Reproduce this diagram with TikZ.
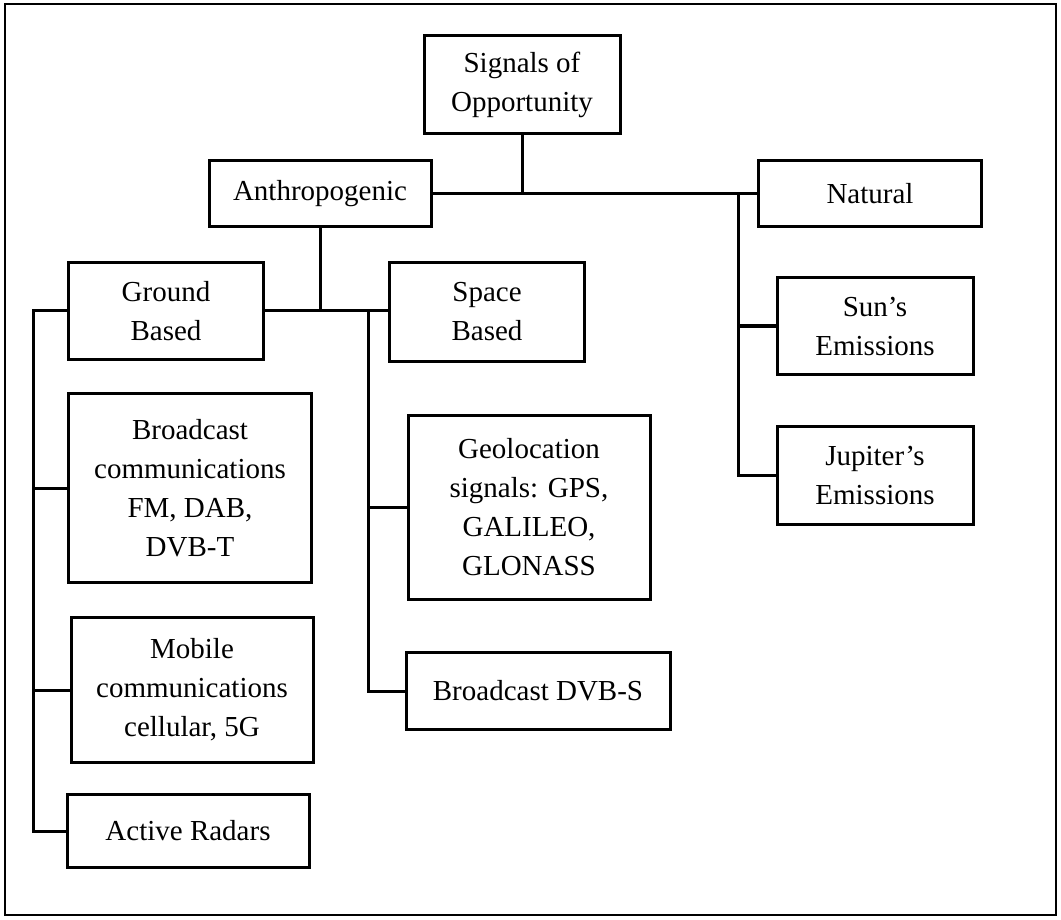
\documentclass[tikz,border=0pt]{standalone}
\usepackage{fontspec}
\setmainfont{Liberation Serif}
\usepackage{tikz}

\begin{document}
\begin{tikzpicture}[x=1pt, y=-1pt, line width=3pt,
    catbox/.style={draw, align=center, inner sep=0pt, font=\fontsize{29}{39}\selectfont}]
        \useasboundingbox (0,0) rectangle (1061,920);
        \draw[line width=2.6pt] (5,4) rectangle (1056,915);
        % top levels
        \node[catbox, minimum width=196pt, minimum height=98pt] (sig) at (522,85) {Signals of\\Opportunity};
        \node[catbox, minimum width=222pt, minimum height=66pt] (anth) at (320,194) {Anthropogenic};
        \node[catbox, minimum width=223pt, minimum height=66pt] (nat) at (870,194) {Natural};
        \node[catbox, minimum width=195pt, minimum height=97pt] (ground) at (166,311) {Ground\\Based};
        \node[catbox, minimum width=195pt, minimum height=98pt] (space) at (487,312) {Space\\Based};
        % leaves
        \node[catbox, minimum width=196pt, minimum height=97pt] (sun) at (875,326) {Sun's\\Emissions};
        \node[catbox, minimum width=196pt, minimum height=98pt] (jup) at (875,475) {Jupiter's\\Emissions};
        \node[catbox, minimum width=243pt, minimum height=189pt] (bcast) at (190,488) {Broadcast\\communications\\FM, DAB,\\DVB-T};
        \node[catbox, minimum width=242pt, minimum height=145pt] (mobile) at (192,690) {Mobile\\communications\\cellular, 5G};
        \node[catbox, minimum width=242pt, minimum height=73pt] (radar) at (188,831) {Active Radars};
        \node[catbox, minimum width=242pt, minimum height=184pt] (geo) at (529,507) {Geolocation\\signals: GPS,\\GALILEO,\\GLONASS};
        \node[catbox, minimum width=264pt, minimum height=77pt] (dvbs) at (538,691) {Broadcast DVB-S};
        % trunks
        \coordinate (gtrunk) at (33,311);
        \coordinate (strunk) at (368,311);
        \coordinate (ntrunk) at (738,194);
        \draw (sig.south) -- (sig.south |- anth.east);
        \draw (anth.east) -- (nat.west);
        \draw (anth.south) -- (anth.south |- ground.east);
        \draw (ground.east) -- (ground.east -| space.west);
        \draw (ground.west) -- (gtrunk) |- (radar.west);
        \draw (bcast.west) -- (bcast.west -| gtrunk);
        \draw (mobile.west) -- (mobile.west -| gtrunk);
        \draw (strunk) |- (dvbs.west);
        \draw (geo.west) -- (geo.west -| strunk);
        \draw (ntrunk) |- (jup.west);
        \draw (sun.west) -- (sun.west -| ntrunk);
      \end{tikzpicture}
\end{document}
